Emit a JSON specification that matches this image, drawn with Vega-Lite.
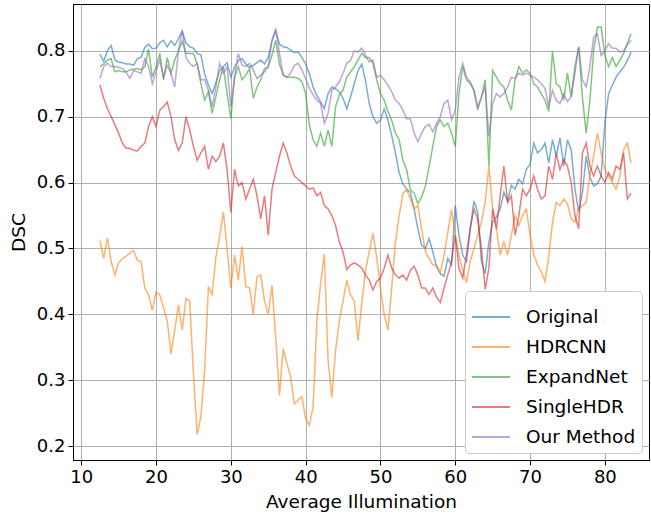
{
  "$schema": "https://vega.github.io/schema/vega-lite/v6.json",
  "width": 576,
  "height": 456,
  "autosize": {"type": "none"},
  "padding": {"left": 73, "top": 4, "right": 2, "bottom": 56},
  "background": "white",
  "config": {
    "font": "DejaVu Sans",
    "view": {"stroke": "black", "strokeWidth": 1},
    "axis": {
      "labelFontSize": 18, "titleFontSize": 18.5, "labelColor": "black", "titleColor": "black",
      "titleFontWeight": "normal", "tickColor": "black", "tickSize": 5, "domainColor": "black",
      "gridColor": "#b0b0b0", "gridWidth": 1, "labelPadding": 3
    }
  },
  "data": {"values": [
    {"x":12.5,"Original":0.795,"HDRCNN":0.512,"ExpandNet":0.776,"SingleHDR":0.748,"Our Method":0.758},
    {"x":13,"Original":0.784,"HDRCNN":0.485,"ExpandNet":0.78,"SingleHDR":0.728,"Our Method":0.776},
    {"x":13.5,"Original":0.8,"HDRCNN":0.516,"ExpandNet":0.786,"SingleHDR":0.712,"Our Method":0.781},
    {"x":14,"Original":0.808,"HDRCNN":0.48,"ExpandNet":0.788,"SingleHDR":0.7,"Our Method":0.776},
    {"x":14.5,"Original":0.786,"HDRCNN":0.46,"ExpandNet":0.768,"SingleHDR":0.688,"Our Method":0.776},
    {"x":15,"Original":0.783,"HDRCNN":0.478,"ExpandNet":0.77,"SingleHDR":0.675,"Our Method":0.775},
    {"x":15.5,"Original":0.782,"HDRCNN":0.485,"ExpandNet":0.768,"SingleHDR":0.66,"Our Method":0.773},
    {"x":16,"Original":0.78,"HDRCNN":0.488,"ExpandNet":0.768,"SingleHDR":0.652,"Our Method":0.768},
    {"x":16.5,"Original":0.78,"HDRCNN":0.493,"ExpandNet":0.771,"SingleHDR":0.652,"Our Method":0.758},
    {"x":17,"Original":0.778,"HDRCNN":0.497,"ExpandNet":0.772,"SingleHDR":0.649,"Our Method":0.77},
    {"x":17.5,"Original":0.788,"HDRCNN":0.482,"ExpandNet":0.773,"SingleHDR":0.648,"Our Method":0.768},
    {"x":18,"Original":0.79,"HDRCNN":0.48,"ExpandNet":0.771,"SingleHDR":0.655,"Our Method":0.766},
    {"x":18.5,"Original":0.805,"HDRCNN":0.44,"ExpandNet":0.776,"SingleHDR":0.66,"Our Method":0.788},
    {"x":19,"Original":0.81,"HDRCNN":0.43,"ExpandNet":0.803,"SingleHDR":0.685,"Our Method":0.776},
    {"x":19.5,"Original":0.803,"HDRCNN":0.406,"ExpandNet":0.76,"SingleHDR":0.7,"Our Method":0.75},
    {"x":20,"Original":0.804,"HDRCNN":0.434,"ExpandNet":0.776,"SingleHDR":0.685,"Our Method":0.768},
    {"x":20.5,"Original":0.812,"HDRCNN":0.43,"ExpandNet":0.796,"SingleHDR":0.71,"Our Method":0.786},
    {"x":21,"Original":0.816,"HDRCNN":0.41,"ExpandNet":0.756,"SingleHDR":0.715,"Our Method":0.76},
    {"x":21.5,"Original":0.806,"HDRCNN":0.39,"ExpandNet":0.79,"SingleHDR":0.722,"Our Method":0.778},
    {"x":22,"Original":0.815,"HDRCNN":0.34,"ExpandNet":0.766,"SingleHDR":0.7,"Our Method":0.766},
    {"x":22.5,"Original":0.808,"HDRCNN":0.376,"ExpandNet":0.786,"SingleHDR":0.665,"Our Method":0.745},
    {"x":23,"Original":0.818,"HDRCNN":0.414,"ExpandNet":0.8,"SingleHDR":0.649,"Our Method":0.8},
    {"x":23.5,"Original":0.83,"HDRCNN":0.376,"ExpandNet":0.814,"SingleHDR":0.66,"Our Method":0.831},
    {"x":24,"Original":0.812,"HDRCNN":0.424,"ExpandNet":0.796,"SingleHDR":0.7,"Our Method":0.79},
    {"x":24.5,"Original":0.806,"HDRCNN":0.42,"ExpandNet":0.796,"SingleHDR":0.68,"Our Method":0.781},
    {"x":25,"Original":0.804,"HDRCNN":0.31,"ExpandNet":0.796,"SingleHDR":0.655,"Our Method":0.776},
    {"x":25.5,"Original":0.796,"HDRCNN":0.218,"ExpandNet":0.78,"SingleHDR":0.634,"Our Method":0.781},
    {"x":26,"Original":0.794,"HDRCNN":0.245,"ExpandNet":0.75,"SingleHDR":0.645,"Our Method":0.756},
    {"x":26.5,"Original":0.765,"HDRCNN":0.315,"ExpandNet":0.725,"SingleHDR":0.655,"Our Method":0.756},
    {"x":27,"Original":0.748,"HDRCNN":0.442,"ExpandNet":0.738,"SingleHDR":0.62,"Our Method":0.74},
    {"x":27.5,"Original":0.735,"HDRCNN":0.43,"ExpandNet":0.705,"SingleHDR":0.64,"Our Method":0.715},
    {"x":28,"Original":0.752,"HDRCNN":0.487,"ExpandNet":0.73,"SingleHDR":0.632,"Our Method":0.745},
    {"x":28.5,"Original":0.77,"HDRCNN":0.518,"ExpandNet":0.756,"SingleHDR":0.64,"Our Method":0.781},
    {"x":29,"Original":0.776,"HDRCNN":0.555,"ExpandNet":0.776,"SingleHDR":0.66,"Our Method":0.766},
    {"x":29.5,"Original":0.782,"HDRCNN":0.5,"ExpandNet":0.735,"SingleHDR":0.62,"Our Method":0.776},
    {"x":30,"Original":0.76,"HDRCNN":0.44,"ExpandNet":0.697,"SingleHDR":0.555,"Our Method":0.715},
    {"x":30.5,"Original":0.775,"HDRCNN":0.49,"ExpandNet":0.76,"SingleHDR":0.62,"Our Method":0.76},
    {"x":31,"Original":0.785,"HDRCNN":0.452,"ExpandNet":0.776,"SingleHDR":0.595,"Our Method":0.796},
    {"x":31.5,"Original":0.788,"HDRCNN":0.503,"ExpandNet":0.756,"SingleHDR":0.6,"Our Method":0.778},
    {"x":32,"Original":0.78,"HDRCNN":0.442,"ExpandNet":0.763,"SingleHDR":0.575,"Our Method":0.776},
    {"x":32.5,"Original":0.775,"HDRCNN":0.44,"ExpandNet":0.773,"SingleHDR":0.59,"Our Method":0.781},
    {"x":33,"Original":0.778,"HDRCNN":0.4,"ExpandNet":0.728,"SingleHDR":0.605,"Our Method":0.771},
    {"x":33.5,"Original":0.782,"HDRCNN":0.457,"ExpandNet":0.745,"SingleHDR":0.58,"Our Method":0.758},
    {"x":34,"Original":0.786,"HDRCNN":0.46,"ExpandNet":0.756,"SingleHDR":0.545,"Our Method":0.763},
    {"x":34.5,"Original":0.78,"HDRCNN":0.42,"ExpandNet":0.773,"SingleHDR":0.58,"Our Method":0.768},
    {"x":35,"Original":0.79,"HDRCNN":0.4,"ExpandNet":0.776,"SingleHDR":0.52,"Our Method":0.776},
    {"x":35.5,"Original":0.815,"HDRCNN":0.444,"ExpandNet":0.793,"SingleHDR":0.59,"Our Method":0.816},
    {"x":36,"Original":0.83,"HDRCNN":0.365,"ExpandNet":0.816,"SingleHDR":0.615,"Our Method":0.834},
    {"x":36.5,"Original":0.81,"HDRCNN":0.277,"ExpandNet":0.78,"SingleHDR":0.64,"Our Method":0.796},
    {"x":37,"Original":0.806,"HDRCNN":0.348,"ExpandNet":0.763,"SingleHDR":0.66,"Our Method":0.763},
    {"x":37.5,"Original":0.805,"HDRCNN":0.325,"ExpandNet":0.76,"SingleHDR":0.645,"Our Method":0.76},
    {"x":38,"Original":0.801,"HDRCNN":0.305,"ExpandNet":0.76,"SingleHDR":0.625,"Our Method":0.766},
    {"x":38.5,"Original":0.797,"HDRCNN":0.264,"ExpandNet":0.76,"SingleHDR":0.61,"Our Method":0.778},
    {"x":39,"Original":0.798,"HDRCNN":0.27,"ExpandNet":0.758,"SingleHDR":0.605,"Our Method":0.781},
    {"x":39.5,"Original":0.79,"HDRCNN":0.275,"ExpandNet":0.753,"SingleHDR":0.6,"Our Method":0.771},
    {"x":40,"Original":0.78,"HDRCNN":0.242,"ExpandNet":0.735,"SingleHDR":0.595,"Our Method":0.758},
    {"x":40.5,"Original":0.765,"HDRCNN":0.232,"ExpandNet":0.687,"SingleHDR":0.59,"Our Method":0.743},
    {"x":41,"Original":0.745,"HDRCNN":0.26,"ExpandNet":0.665,"SingleHDR":0.592,"Our Method":0.733},
    {"x":41.5,"Original":0.732,"HDRCNN":0.39,"ExpandNet":0.655,"SingleHDR":0.58,"Our Method":0.725},
    {"x":42,"Original":0.722,"HDRCNN":0.447,"ExpandNet":0.675,"SingleHDR":0.585,"Our Method":0.72},
    {"x":42.5,"Original":0.712,"HDRCNN":0.492,"ExpandNet":0.655,"SingleHDR":0.565,"Our Method":0.69},
    {"x":43,"Original":0.735,"HDRCNN":0.33,"ExpandNet":0.68,"SingleHDR":0.56,"Our Method":0.705},
    {"x":43.5,"Original":0.745,"HDRCNN":0.274,"ExpandNet":0.655,"SingleHDR":0.55,"Our Method":0.74},
    {"x":44,"Original":0.742,"HDRCNN":0.345,"ExpandNet":0.715,"SingleHDR":0.535,"Our Method":0.745},
    {"x":44.5,"Original":0.738,"HDRCNN":0.39,"ExpandNet":0.733,"SingleHDR":0.51,"Our Method":0.753},
    {"x":45,"Original":0.728,"HDRCNN":0.42,"ExpandNet":0.74,"SingleHDR":0.495,"Our Method":0.766},
    {"x":45.5,"Original":0.712,"HDRCNN":0.452,"ExpandNet":0.76,"SingleHDR":0.468,"Our Method":0.781},
    {"x":46,"Original":0.73,"HDRCNN":0.43,"ExpandNet":0.768,"SingleHDR":0.475,"Our Method":0.785},
    {"x":46.5,"Original":0.75,"HDRCNN":0.42,"ExpandNet":0.776,"SingleHDR":0.478,"Our Method":0.8},
    {"x":47,"Original":0.77,"HDRCNN":0.36,"ExpandNet":0.786,"SingleHDR":0.475,"Our Method":0.798},
    {"x":47.5,"Original":0.78,"HDRCNN":0.416,"ExpandNet":0.796,"SingleHDR":0.47,"Our Method":0.804},
    {"x":48,"Original":0.755,"HDRCNN":0.467,"ExpandNet":0.79,"SingleHDR":0.46,"Our Method":0.793},
    {"x":48.5,"Original":0.72,"HDRCNN":0.495,"ExpandNet":0.79,"SingleHDR":0.452,"Our Method":0.783},
    {"x":49,"Original":0.7,"HDRCNN":0.523,"ExpandNet":0.781,"SingleHDR":0.437,"Our Method":0.786},
    {"x":49.5,"Original":0.69,"HDRCNN":0.487,"ExpandNet":0.756,"SingleHDR":0.45,"Our Method":0.76},
    {"x":50,"Original":0.695,"HDRCNN":0.44,"ExpandNet":0.735,"SingleHDR":0.455,"Our Method":0.763},
    {"x":50.5,"Original":0.712,"HDRCNN":0.4,"ExpandNet":0.725,"SingleHDR":0.47,"Our Method":0.756},
    {"x":51,"Original":0.695,"HDRCNN":0.376,"ExpandNet":0.708,"SingleHDR":0.49,"Our Method":0.748},
    {"x":51.5,"Original":0.672,"HDRCNN":0.44,"ExpandNet":0.695,"SingleHDR":0.47,"Our Method":0.738},
    {"x":52,"Original":0.645,"HDRCNN":0.51,"ExpandNet":0.675,"SingleHDR":0.46,"Our Method":0.725},
    {"x":52.5,"Original":0.615,"HDRCNN":0.55,"ExpandNet":0.665,"SingleHDR":0.455,"Our Method":0.72},
    {"x":53,"Original":0.598,"HDRCNN":0.584,"ExpandNet":0.634,"SingleHDR":0.46,"Our Method":0.71},
    {"x":53.5,"Original":0.59,"HDRCNN":0.589,"ExpandNet":0.62,"SingleHDR":0.452,"Our Method":0.697},
    {"x":54,"Original":0.585,"HDRCNN":0.575,"ExpandNet":0.589,"SingleHDR":0.467,"Our Method":0.697},
    {"x":54.5,"Original":0.56,"HDRCNN":0.56,"ExpandNet":0.584,"SingleHDR":0.473,"Our Method":0.675},
    {"x":55,"Original":0.53,"HDRCNN":0.565,"ExpandNet":0.568,"SingleHDR":0.46,"Our Method":0.662},
    {"x":55.5,"Original":0.505,"HDRCNN":0.53,"ExpandNet":0.578,"SingleHDR":0.44,"Our Method":0.675},
    {"x":56,"Original":0.5,"HDRCNN":0.495,"ExpandNet":0.594,"SingleHDR":0.44,"Our Method":0.685},
    {"x":56.5,"Original":0.515,"HDRCNN":0.485,"ExpandNet":0.624,"SingleHDR":0.43,"Our Method":0.688},
    {"x":57,"Original":0.495,"HDRCNN":0.475,"ExpandNet":0.655,"SingleHDR":0.44,"Our Method":0.677},
    {"x":57.5,"Original":0.472,"HDRCNN":0.475,"ExpandNet":0.685,"SingleHDR":0.426,"Our Method":0.69},
    {"x":58,"Original":0.462,"HDRCNN":0.462,"ExpandNet":0.695,"SingleHDR":0.418,"Our Method":0.7},
    {"x":58.5,"Original":0.458,"HDRCNN":0.49,"ExpandNet":0.685,"SingleHDR":0.44,"Our Method":0.72},
    {"x":59,"Original":0.485,"HDRCNN":0.524,"ExpandNet":0.69,"SingleHDR":0.46,"Our Method":0.725},
    {"x":59.5,"Original":0.475,"HDRCNN":0.559,"ExpandNet":0.675,"SingleHDR":0.48,"Our Method":0.695},
    {"x":60,"Original":0.565,"HDRCNN":0.52,"ExpandNet":0.655,"SingleHDR":0.52,"Our Method":0.71},
    {"x":60.5,"Original":0.52,"HDRCNN":0.49,"ExpandNet":0.735,"SingleHDR":0.47,"Our Method":0.76},
    {"x":61,"Original":0.49,"HDRCNN":0.468,"ExpandNet":0.776,"SingleHDR":0.455,"Our Method":0.781},
    {"x":61.5,"Original":0.48,"HDRCNN":0.448,"ExpandNet":0.756,"SingleHDR":0.49,"Our Method":0.76},
    {"x":62,"Original":0.53,"HDRCNN":0.48,"ExpandNet":0.75,"SingleHDR":0.53,"Our Method":0.753},
    {"x":62.5,"Original":0.572,"HDRCNN":0.5,"ExpandNet":0.74,"SingleHDR":0.56,"Our Method":0.74},
    {"x":63,"Original":0.555,"HDRCNN":0.52,"ExpandNet":0.715,"SingleHDR":0.545,"Our Method":0.71},
    {"x":63.5,"Original":0.48,"HDRCNN":0.54,"ExpandNet":0.73,"SingleHDR":0.5,"Our Method":0.73},
    {"x":64,"Original":0.462,"HDRCNN":0.57,"ExpandNet":0.756,"SingleHDR":0.438,"Our Method":0.745},
    {"x":64.5,"Original":0.51,"HDRCNN":0.625,"ExpandNet":0.625,"SingleHDR":0.47,"Our Method":0.67},
    {"x":65,"Original":0.54,"HDRCNN":0.56,"ExpandNet":0.77,"SingleHDR":0.56,"Our Method":0.72},
    {"x":65.5,"Original":0.548,"HDRCNN":0.53,"ExpandNet":0.76,"SingleHDR":0.53,"Our Method":0.735},
    {"x":66,"Original":0.56,"HDRCNN":0.49,"ExpandNet":0.75,"SingleHDR":0.58,"Our Method":0.73},
    {"x":66.5,"Original":0.585,"HDRCNN":0.51,"ExpandNet":0.745,"SingleHDR":0.625,"Our Method":0.735},
    {"x":67,"Original":0.572,"HDRCNN":0.49,"ExpandNet":0.725,"SingleHDR":0.57,"Our Method":0.745},
    {"x":67.5,"Original":0.596,"HDRCNN":0.52,"ExpandNet":0.71,"SingleHDR":0.58,"Our Method":0.76},
    {"x":68,"Original":0.59,"HDRCNN":0.55,"ExpandNet":0.756,"SingleHDR":0.52,"Our Method":0.758},
    {"x":68.5,"Original":0.605,"HDRCNN":0.535,"ExpandNet":0.776,"SingleHDR":0.55,"Our Method":0.766},
    {"x":69,"Original":0.598,"HDRCNN":0.55,"ExpandNet":0.766,"SingleHDR":0.59,"Our Method":0.763},
    {"x":69.5,"Original":0.62,"HDRCNN":0.56,"ExpandNet":0.771,"SingleHDR":0.58,"Our Method":0.766},
    {"x":70,"Original":0.628,"HDRCNN":0.52,"ExpandNet":0.766,"SingleHDR":0.59,"Our Method":0.763},
    {"x":70.5,"Original":0.66,"HDRCNN":0.49,"ExpandNet":0.75,"SingleHDR":0.61,"Our Method":0.76},
    {"x":71,"Original":0.645,"HDRCNN":0.475,"ExpandNet":0.745,"SingleHDR":0.59,"Our Method":0.756},
    {"x":71.5,"Original":0.65,"HDRCNN":0.465,"ExpandNet":0.735,"SingleHDR":0.575,"Our Method":0.75},
    {"x":72,"Original":0.66,"HDRCNN":0.45,"ExpandNet":0.725,"SingleHDR":0.58,"Our Method":0.743},
    {"x":72.5,"Original":0.63,"HDRCNN":0.488,"ExpandNet":0.708,"SingleHDR":0.625,"Our Method":0.715},
    {"x":73,"Original":0.665,"HDRCNN":0.54,"ExpandNet":0.8,"SingleHDR":0.605,"Our Method":0.74},
    {"x":73.5,"Original":0.64,"HDRCNN":0.57,"ExpandNet":0.75,"SingleHDR":0.644,"Our Method":0.725},
    {"x":74,"Original":0.668,"HDRCNN":0.565,"ExpandNet":0.745,"SingleHDR":0.62,"Our Method":0.72},
    {"x":74.5,"Original":0.625,"HDRCNN":0.575,"ExpandNet":0.725,"SingleHDR":0.635,"Our Method":0.735},
    {"x":75,"Original":0.665,"HDRCNN":0.568,"ExpandNet":0.766,"SingleHDR":0.625,"Our Method":0.723},
    {"x":75.5,"Original":0.65,"HDRCNN":0.545,"ExpandNet":0.73,"SingleHDR":0.6,"Our Method":0.73},
    {"x":76,"Original":0.59,"HDRCNN":0.54,"ExpandNet":0.776,"SingleHDR":0.55,"Our Method":0.766},
    {"x":76.5,"Original":0.556,"HDRCNN":0.56,"ExpandNet":0.806,"SingleHDR":0.53,"Our Method":0.806},
    {"x":77,"Original":0.585,"HDRCNN":0.565,"ExpandNet":0.73,"SingleHDR":0.645,"Our Method":0.756},
    {"x":77.5,"Original":0.64,"HDRCNN":0.57,"ExpandNet":0.675,"SingleHDR":0.66,"Our Method":0.745},
    {"x":78,"Original":0.608,"HDRCNN":0.61,"ExpandNet":0.725,"SingleHDR":0.625,"Our Method":0.776},
    {"x":78.5,"Original":0.595,"HDRCNN":0.64,"ExpandNet":0.8,"SingleHDR":0.61,"Our Method":0.821},
    {"x":79,"Original":0.598,"HDRCNN":0.675,"ExpandNet":0.836,"SingleHDR":0.625,"Our Method":0.826},
    {"x":79.5,"Original":0.61,"HDRCNN":0.645,"ExpandNet":0.836,"SingleHDR":0.61,"Our Method":0.793},
    {"x":80,"Original":0.69,"HDRCNN":0.62,"ExpandNet":0.793,"SingleHDR":0.6,"Our Method":0.8},
    {"x":80.5,"Original":0.735,"HDRCNN":0.61,"ExpandNet":0.776,"SingleHDR":0.615,"Our Method":0.811},
    {"x":81,"Original":0.748,"HDRCNN":0.6,"ExpandNet":0.79,"SingleHDR":0.605,"Our Method":0.804},
    {"x":81.5,"Original":0.76,"HDRCNN":0.59,"ExpandNet":0.776,"SingleHDR":0.625,"Our Method":0.804},
    {"x":82,"Original":0.768,"HDRCNN":0.61,"ExpandNet":0.786,"SingleHDR":0.62,"Our Method":0.798},
    {"x":82.5,"Original":0.775,"HDRCNN":0.65,"ExpandNet":0.796,"SingleHDR":0.645,"Our Method":0.8},
    {"x":83,"Original":0.785,"HDRCNN":0.66,"ExpandNet":0.811,"SingleHDR":0.575,"Our Method":0.809},
    {"x":83.5,"Original":0.798,"HDRCNN":0.63,"ExpandNet":0.826,"SingleHDR":0.584,"Our Method":0.816}
  ]},
  "transform": [
    {"fold": ["Original", "HDRCNN", "ExpandNet", "SingleHDR", "Our Method"], "as": ["series", "dsc"]}
  ],
  "mark": {"type": "line", "strokeWidth": 1.5, "opacity": 0.6, "clip": true},
  "encoding": {
    "x": {
      "field": "x", "type": "quantitative",
      "scale": {"domain": [8.9, 85.9], "nice": false, "zero": false},
      "axis": {"values": [10, 20, 30, 40, 50, 60, 70, 80], "title": "Average Illumination", "titlePadding": 6}
    },
    "y": {
      "field": "dsc", "type": "quantitative",
      "scale": {"domain": [0.179, 0.871], "nice": false, "zero": false},
      "axis": {"values": [0.2, 0.3, 0.4, 0.5, 0.6, 0.7, 0.8], "format": ".1f", "title": "DSC", "titlePadding": 8}
    },
    "color": {
      "field": "series", "type": "nominal",
      "scale": {
        "domain": ["Original", "HDRCNN", "ExpandNet", "SingleHDR", "Our Method"],
        "range": ["#1f77b4", "#ff7f0e", "#2ca02c", "#d62728", "#9467bd"]
      },
      "legend": {
        "title": null, "orient": "bottom-right", "offset": 7,
        "fillColor": "white", "strokeColor": "#cccccc", "cornerRadius": 4, "padding": 6,
        "labelFontSize": 18.5, "labelColor": "black", "labelOffset": 15,
        "symbolType": "stroke", "symbolSize": 1444, "symbolStrokeWidth": 2, "symbolOpacity": 0.6,
        "rowPadding": 0
      }
    }
  }
}
